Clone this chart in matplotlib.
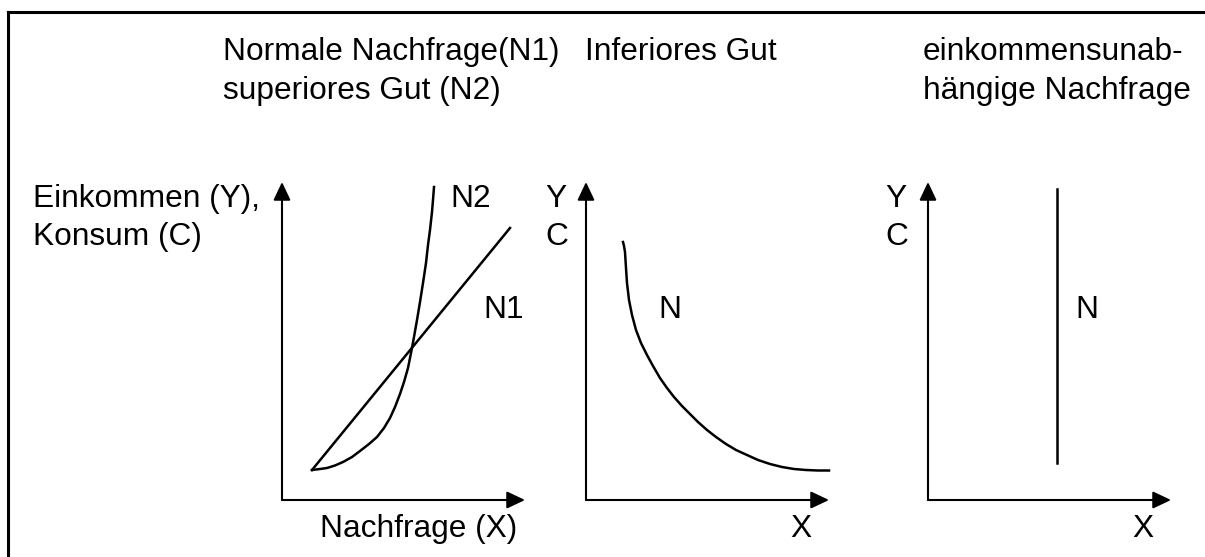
import matplotlib
matplotlib.use("Agg")
import matplotlib.pyplot as plt
from matplotlib.lines import Line2D

plt.rcParams['font.family'] = ['Liberation Sans', 'DejaVu Sans']

W, H = 1205, 557
FS = 22.8

# curve points, measured in pixels from each panel's origin
n1_x = [30, 228]
n1_y = [30, 272]

n2_x = [30, 38, 45, 53, 61, 70, 78, 87, 95, 102, 108, 113, 118, 122, 126,
        129, 132, 135, 138, 141, 144, 146, 148, 150, 151, 152]
n2_y = [30, 31, 32, 34.5, 38, 43, 49, 56, 63, 72, 82, 93, 106, 118, 132,
        147, 163, 180, 198, 217, 237, 255, 270, 288, 300, 313]

inf_x = [37, 38, 39, 40, 41, 43, 46, 50, 55, 61, 67, 74, 81, 88, 96, 104,
         112, 121, 130, 140, 150, 161, 172, 184, 196, 208, 220, 232, 243]
inf_y = [258, 254, 248, 232, 217, 200, 185, 170, 157, 145, 134, 122, 112,
         103, 94, 86, 78, 70, 63, 56, 50, 45, 40, 36, 33, 31, 30, 29.5, 29.5]

unab_x = [129, 129]
unab_y = [37, 311]

# panel origins (pixels) and axis lengths
origins = [(282, 500), (586, 500), (928, 500)]
ax_w, ax_h = 243, 318

fig = plt.figure(figsize=(W / 100, H / 100), dpi=100)


def px_text(x, y, s):
    fig.text(x / W, 1 - y / H, s, fontsize=FS, ha='left', va='baseline')


def panel(ox, oy):
    ax = fig.add_axes([ox / W, (H - oy) / H, ax_w / W, ax_h / H])
    ax.set_xlim(0, ax_w)
    ax.set_ylim(0, ax_h)
    ax.axis('off')
    arrow = dict(arrowstyle='-|>,head_length=1.1,head_width=0.52', lw=1.5,
                 color='black', shrinkA=0, shrinkB=0)
    ax.annotate('', xy=(ax_w, 0), xytext=(0, 0), arrowprops=arrow,
                annotation_clip=False)
    ax.annotate('', xy=(0, ax_h), xytext=(0, 0), arrowprops=arrow,
                annotation_clip=False)
    return ax


ax1 = panel(*origins[0])
ax1.plot(n1_x, n1_y, color='black', lw=1.8, clip_on=False)
ax1.plot(n2_x, n2_y, color='black', lw=1.8, clip_on=False)

ax2 = panel(*origins[1])
ax2.plot(inf_x, inf_y, color='black', lw=1.8, clip_on=False)

ax3 = panel(*origins[2])
ax3.plot(unab_x, unab_y, color='black', lw=1.8, clip_on=False)

# headings
px_text(223, 60, 'Normale Nachfrage(N1)')
px_text(223, 99, 'superiores Gut (N2)')
px_text(585, 60, 'Inferiores Gut')
px_text(923, 60, 'einkommensunab-')
px_text(923, 99, 'hängige Nachfrage')

# axis labels
px_text(33, 207, 'Einkommen (Y),')
px_text(33, 245, 'Konsum (C)')
px_text(450, 207, 'N2')
px_text(483, 318, 'N1')
px_text(320, 537, 'Nachfrage (X)')

px_text(545, 207, 'Y')
px_text(545, 245, 'C')
px_text(658, 318, 'N')
px_text(790, 537, 'X')

px_text(885, 207, 'Y')
px_text(885, 245, 'C')
px_text(1075, 318, 'N')
px_text(1132, 537, 'X')

# frame (top and left edge)
fig.add_artist(Line2D([8 / W, 1], [1 - 12 / H, 1 - 12 / H], color='black', lw=2.2))
fig.add_artist(Line2D([8 / W, 8 / W], [0, 1 - 12 / H], color='black', lw=2.2))

fig.savefig('out.png', dpi=100)
